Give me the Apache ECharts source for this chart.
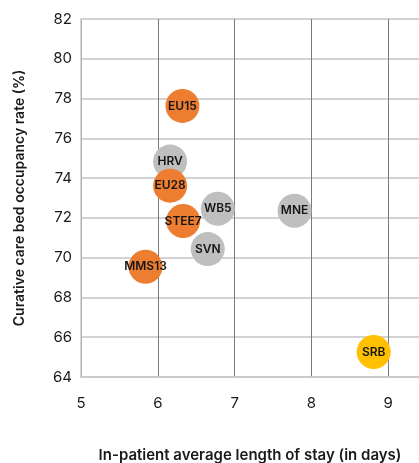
<!DOCTYPE html>
<html>
<head>
<meta charset="utf-8">
<script src="https://cdn.jsdelivr.net/npm/echarts@6/dist/echarts.min.js"></script>
<style>
html,body{margin:0;padding:0;background:#fff;}
#chart{width:419px;height:463px;}
</style>
</head>
<body>
<div id="chart"></div>
<script>
const orangeNames = ['EU15','EU28','STEE7','MMS13'];
const orangeX = [6.32, 6.16, 6.33, 5.84];
const orangeY = [77.63, 73.62, 71.84, 69.54];

const grayNames = ['HRV','WB5','MNE','SVN'];
const grayX = [6.16, 6.78, 7.78, 6.65];
const grayY = [74.83, 72.46, 72.36, 70.43];

const yellowNames = ['SRB'];
const yellowX = [8.81];
const yellowY = [65.26];

const xTicks = [5, 6, 7, 8, 9];
const yTicks = [64, 66, 68, 70, 72, 74, 76, 78, 80, 82];

function pts(names, xs, ys){
  return names.map((n,i)=>({name:n, value:[xs[i], ys[i]]}));
}
const font = 'Inter, "Noto Sans", sans-serif';
function series(names, xs, ys, color){
  return {
    type:'scatter',
    symbolSize:34,
    data: pts(names, xs, ys),
    itemStyle:{color:color, opacity:1},
    label:{show:true, position:'inside', formatter:'{b}', color:'#141414',
      fontFamily:font, fontSize:12, fontWeight:600},
    emphasis:{disabled:true}
  };
}
const chart = echarts.init(document.getElementById('chart'), null, {renderer:'canvas'});
chart.setOption({
  animation:false,
  grid:{left:81, top:19, right:0, bottom:86, containLabel:false, outerBoundsMode:'none'},
  xAxis:{
    type:'value', min:5, max:9.4, interval:1,
    name:'In-patient average length of stay (in days)',
    nameLocation:'middle', nameGap:71,
    nameTextStyle:{fontFamily:font, fontSize:15, fontWeight:600, color:'#1a1a1a'},
    axisLine:{show:true, lineStyle:{color:'#c8c8c8', width:1.5}},
    axisTick:{show:false},
    axisLabel:{margin:19, fontFamily:font, fontSize:15, color:'#1a1a1a',
      formatter:v=> xTicks.includes(v) ? String(v) : ''},
    splitLine:{show:true, lineStyle:{color:'#7a7a7a', width:1}}
  },
  yAxis:{
    type:'value', min:64, max:82, interval:2,
    name:'Curative care bed occupancy rate (%)',
    nameLocation:'middle', nameGap:54, nameRotate:90,
    nameTextStyle:{fontFamily:font, fontSize:14, fontWeight:600, color:'#1a1a1a'},
    axisLine:{show:true, lineStyle:{color:'#c8c8c8', width:1.5}},
    axisTick:{show:false},
    axisLabel:{margin:9, fontFamily:font, fontSize:15, color:'#1a1a1a',
      formatter:v=> yTicks.includes(v) ? String(v) : ''},
    splitLine:{show:true, lineStyle:{color:'#c4c4c4', width:1.5}}
  },
  series:[
    series(grayNames, grayX, grayY, '#bfbfbf'),
    series(orangeNames, orangeX, orangeY, '#ed7d31'),
    series(yellowNames, yellowX, yellowY, '#ffc000')
  ]
});
</script>
</body>
</html>
